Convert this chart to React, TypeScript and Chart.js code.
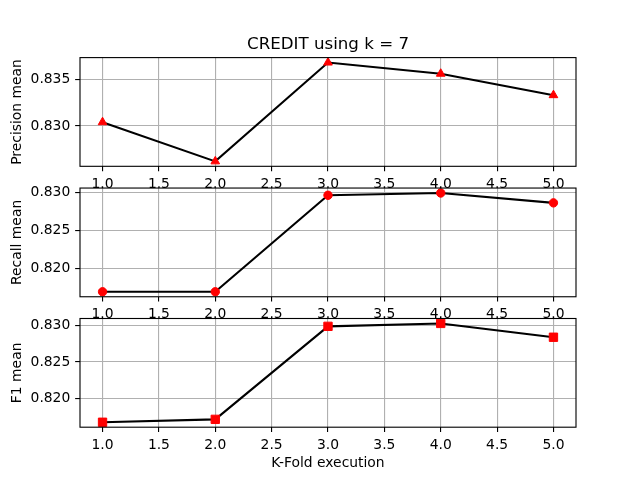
import React, { useEffect, useRef } from "react";
import { Chart, registerables } from "chart.js";

Chart.register(...registerables);

// ---- data ----
const folds = [1, 2, 3, 4, 5];
const precisionMean = [0.8304, 0.8262, 0.8368, 0.8356, 0.8333];
const recallMean = [0.8169, 0.8169, 0.8296, 0.8299, 0.8286];
const f1Mean = [0.8167, 0.8171, 0.8299, 0.8303, 0.8284];
const xTicks = [1.0, 1.5, 2.0, 2.5, 3.0, 3.5, 4.0, 4.5, 5.0];
const precisionTicks = [0.83, 0.835];
const recallTicks = [0.82, 0.825, 0.83];
const f1Ticks = [0.82, 0.825, 0.83];
const chartTitle = "CREDIT using k = 7";
const xLabel = "K-Fold execution";
const yLabels = ["Precision mean", "Recall mean", "F1 mean"];

// ---- layout (matplotlib defaults for a 640x480 figure) ----
const W = 640;
const H = 480;
const AX_LEFT = 80;
const AX_RIGHT = 576;
const AX_TOP = 57.6;
const AX_BOTTOM = 427.2;
const HSPACE = 0.2;
const FONT = "DejaVu Sans";
const PT = 100 / 72;

type Panel = {
  values: number[];
  ticks: number[];
  label: string;
  pointStyle: any;
  radius: number;
};

const panels: Panel[] = [
  { values: precisionMean, ticks: precisionTicks, label: yLabels[0], pointStyle: "triangle", radius: 5 },
  { values: recallMean, ticks: recallTicks, label: yLabels[1], pointStyle: "circle", radius: 4.2 },
  { values: f1Mean, ticks: f1Ticks, label: yLabels[2], pointStyle: "rect", radius: 5.9 },
];

const framePlugin = {
  id: "frame",
  afterDatasetsDraw(chart: any) {
    const { ctx, chartArea } = chart;
    ctx.save();
    ctx.strokeStyle = "#000";
    ctx.lineWidth = 0.8 * PT;
    ctx.strokeRect(chartArea.left, chartArea.top, chartArea.right - chartArea.left, chartArea.bottom - chartArea.top);
    ctx.restore();
  },
};

const titlePlugin = {
  id: "mplTitle",
  afterDraw(chart: any, _args: any, opts: any) {
    if (!opts || !opts.text) return;
    const { ctx, chartArea } = chart;
    ctx.save();
    ctx.fillStyle = "#000";
    ctx.font = `${12 * PT}px "${FONT}"`;
    ctx.textAlign = "center";
    ctx.textBaseline = "alphabetic";
    ctx.fillText(opts.text, (chartArea.left + chartArea.right) / 2, chartArea.top - 6 * PT);
    ctx.restore();
  },
};

export default function App() {
  const refs = [useRef<HTMLCanvasElement>(null), useRef<HTMLCanvasElement>(null), useRef<HTMLCanvasElement>(null)];

  useEffect(() => {
    Chart.defaults.font.family = FONT;
    Chart.defaults.color = "#000";
    const cellH = (AX_BOTTOM - AX_TOP) / (3 + 2 * HSPACE);
    const gap = HSPACE * cellH;
    const charts: Chart[] = [];

    panels.forEach((p, i) => {
      const canvas = refs[i].current;
      if (!canvas) return;
      const pTop = AX_TOP + i * (cellH + gap);
      const pBottom = pTop + cellH;
      const isLast = i === panels.length - 1;
      const xAxisH = isLast ? 45 : 22;
      const lo = Math.min(...p.values);
      const hi = Math.max(...p.values);
      const r = hi - lo;
      const xlo = Math.min(...folds);
      const xhi = Math.max(...folds);
      const xr = xhi - xlo;

      const chart = new Chart(canvas, {
        type: "line",
        data: {
          datasets: [
            {
              data: folds.map((f, k) => ({ x: f, y: p.values[k] })),
              borderColor: "#000",
              borderWidth: 1.5 * PT,
              backgroundColor: "#ff0000",
              pointStyle: p.pointStyle,
              pointRadius: p.radius,
              pointBackgroundColor: "#ff0000",
              pointBorderColor: "#ff0000",
              pointBorderWidth: 1,
              tension: 0,
              fill: false,
              clip: 0,
            } as any,
          ],
        },
        options: {
          animation: false,
          responsive: false,
          devicePixelRatio: 1,
          events: [],
          layout: {
            padding: { left: 0, right: W - AX_RIGHT, top: pTop, bottom: H - pBottom - xAxisH },
          },
          plugins: {
            legend: { display: false },
            tooltip: { enabled: false },
            title: { display: false },
            mplTitle: { text: i === 0 ? chartTitle : "" },
          } as any,
          scales: {
            x: {
              type: "linear",
              min: xlo - 0.05 * xr,
              max: xhi + 0.05 * xr,
              afterBuildTicks: (scale: any) => {
                scale.ticks = xTicks.map((v) => ({ value: v }));
              },
              afterFit: (scale: any) => {
                scale.height = xAxisH;
              },
              ticks: {
                font: { size: 10 * PT, family: FONT },
                color: "#000",
                padding: 3.5 * PT,
                maxRotation: 0,
                autoSkip: false,
                callback: (v: any) => Number(v).toFixed(1),
              },
              grid: {
                color: "#b0b0b0",
                lineWidth: 0.8 * PT,
                tickColor: "#000",
                tickLength: 3.5 * PT,
                tickWidth: 0.8 * PT,
                drawTicks: true,
              },
              border: { display: false },
              title: {
                display: isLast,
                text: xLabel,
                color: "#000",
                font: { size: 10 * PT, family: FONT },
                padding: { top: 0, bottom: 0 },
              },
            },
            y: {
              type: "linear",
              min: lo - 0.05 * r,
              max: hi + 0.05 * r,
              afterBuildTicks: (scale: any) => {
                scale.ticks = p.ticks.map((v) => ({ value: v }));
              },
              afterFit: (scale: any) => {
                scale.width = AX_LEFT;
              },
              ticks: {
                font: { size: 10 * PT, family: FONT },
                color: "#000",
                padding: 3.5 * PT,
                autoSkip: false,
                callback: (v: any) => Number(v).toFixed(3),
              },
              grid: {
                color: "#b0b0b0",
                lineWidth: 0.8 * PT,
                tickColor: "#000",
                tickLength: 3.5 * PT,
                tickWidth: 0.8 * PT,
                drawTicks: true,
              },
              border: { display: false },
              title: {
                display: true,
                text: p.label,
                color: "#000",
                font: { size: 10 * PT, family: FONT },
                padding: { top: 9, bottom: 0 },
              },
            },
          },
        },
        plugins: [framePlugin, titlePlugin],
      });
      charts.push(chart);
    });

    return () => {
      charts.forEach((c) => c.destroy());
    };
  }, []);

  return (
    <div style={{ position: "fixed", left: 0, top: 0, width: W, height: H, background: "#fff" }}>
      {refs.map((ref, i) => (
        <canvas
          key={i}
          ref={ref}
          width={W}
          height={H}
          style={{ position: "absolute", left: 0, top: 0, width: W, height: H }}
        />
      ))}
    </div>
  );
}
